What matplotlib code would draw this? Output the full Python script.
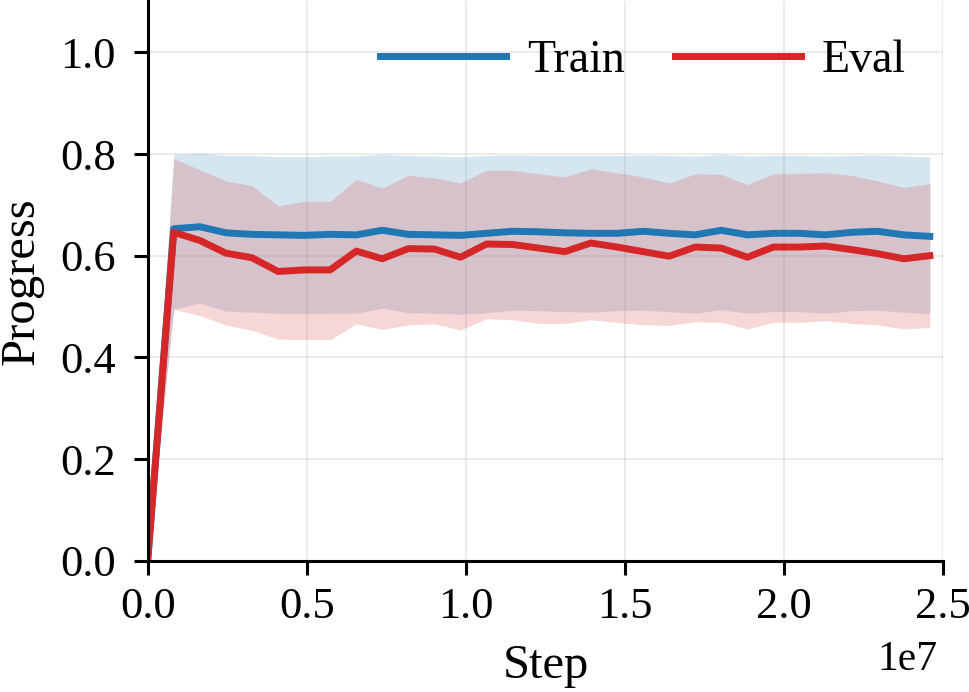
import matplotlib
matplotlib.use("Agg")
import matplotlib.pyplot as plt
from matplotlib.ticker import FuncFormatter

plt.rcParams['font.family'] = ['Liberation Serif', 'DejaVu Serif']
plt.rcParams['font.size'] = 32

# steps logged every 819200 env steps
steps = [0, 819200, 1638400, 2457600, 3276800, 4096000, 4915200, 5734400,
         6553600, 7372800, 8192000, 9011200, 9830400, 10649600, 11468800,
         12288000, 13107200, 13926400, 14745600, 15564800, 16384000,
         17203200, 18022400, 18841600, 19660800, 20480000, 21299200,
         22118400, 22937600, 23756800, 24576000]

train_mean = [0, 0.653, 0.657, 0.645, 0.642, 0.641, 0.640, 0.642, 0.641, 0.650,
              0.642, 0.641, 0.640, 0.644, 0.648, 0.647, 0.645, 0.644, 0.644,
              0.648, 0.644, 0.641, 0.650, 0.641, 0.644, 0.644, 0.641, 0.646,
              0.648, 0.641, 0.638]
train_hi = [0, 0.799, 0.802, 0.797, 0.797, 0.795, 0.795, 0.796, 0.796, 0.799,
            0.797, 0.796, 0.795, 0.797, 0.798, 0.797, 0.797, 0.797, 0.797,
            0.798, 0.797, 0.796, 0.799, 0.796, 0.797, 0.797, 0.796, 0.797,
            0.798, 0.796, 0.794]
train_lo = [0, 0.495, 0.507, 0.491, 0.489, 0.487, 0.486, 0.487, 0.487, 0.497,
            0.488, 0.487, 0.485, 0.488, 0.493, 0.492, 0.490, 0.489, 0.492,
            0.493, 0.490, 0.487, 0.494, 0.487, 0.490, 0.490, 0.487, 0.492,
            0.493, 0.489, 0.486]

eval_mean = [0, 0.646, 0.630, 0.605, 0.596, 0.569, 0.572, 0.572, 0.609, 0.594,
             0.614, 0.613, 0.597, 0.623, 0.622, 0.615, 0.608, 0.625, 0.617,
             0.608, 0.599, 0.617, 0.615, 0.597, 0.617, 0.617, 0.619, 0.612,
             0.604, 0.594, 0.600]
eval_hi = [0, 0.791, 0.769, 0.747, 0.738, 0.698, 0.707, 0.707, 0.750, 0.733,
           0.758, 0.753, 0.743, 0.768, 0.768, 0.761, 0.755, 0.771, 0.763,
           0.755, 0.743, 0.761, 0.760, 0.740, 0.761, 0.762, 0.763, 0.758,
           0.747, 0.734, 0.742]
eval_lo = [0, 0.495, 0.482, 0.464, 0.453, 0.436, 0.435, 0.435, 0.466, 0.455,
           0.464, 0.466, 0.454, 0.476, 0.474, 0.467, 0.467, 0.474, 0.469,
           0.464, 0.463, 0.470, 0.469, 0.456, 0.469, 0.469, 0.472, 0.467,
           0.464, 0.456, 0.459]

fig = plt.figure(figsize=(9.69, 6.92), dpi=100)
ax = fig.add_axes([0.1524, 0.1896, 0.8211, 0.8083])

ax.fill_between(steps, train_lo, train_hi, color='tab:blue', alpha=0.18, linewidth=0)
ax.plot(steps, train_mean, color='tab:blue', linewidth=5, label='Train')
ax.fill_between(steps, eval_lo, eval_hi, color='tab:red', alpha=0.19, linewidth=0)
ax.plot(steps, eval_mean, color='tab:red', linewidth=5, label='Eval')

ax.set_xlim(0, 2.5e7)
ax.set_ylim(0, 1.1)
ax.set_yticks([0.0, 0.2, 0.4, 0.6, 0.8, 1.0])
ax.set_xticks([0, 0.5e7, 1.0e7, 1.5e7, 2.0e7, 2.5e7])
# tick labels in units of 1e7, scale written separately below the axis
ax.xaxis.set_major_formatter(FuncFormatter(lambda v, pos: f'{v / 1e7:.1f}'))
ax.grid(True, color='gray', alpha=0.15, linewidth=1.5)

for side in ['top', 'right']:
    ax.spines[side].set_visible(False)
for side in ['left', 'bottom']:
    ax.spines[side].set_linewidth(2.2)
ax.tick_params(length=10, width=2.2, labelsize=32)
ax.tick_params(axis='x', pad=9)
ax.tick_params(axis='y', pad=13)

ax.text(0.9933, -0.195, '1e7', transform=ax.transAxes, ha='right',
        va='baseline', fontsize=30)

ax.set_xlabel('Step', fontsize=35, labelpad=12)
ax.set_ylabel('Progress', fontsize=35, labelpad=12)

ax.legend(loc='upper right', ncol=2, frameon=False, handlelength=2.75,
          handletextpad=0.45, columnspacing=1.1, fontsize=33,
          bbox_to_anchor=(1.005, 1.005))

fig.savefig('out.png', dpi=100)
